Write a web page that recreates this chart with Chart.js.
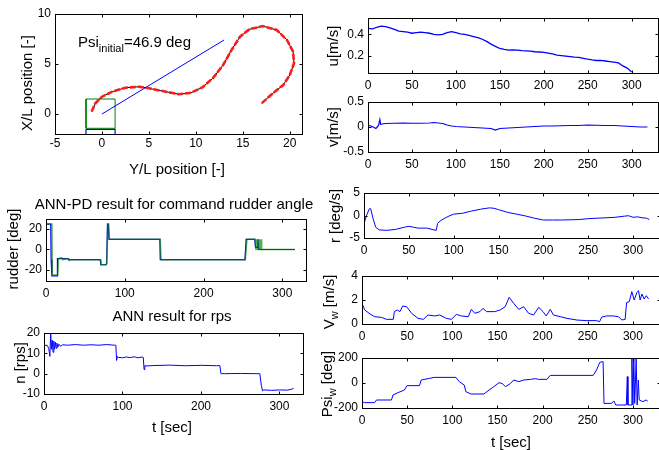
<!DOCTYPE html>
<html>
<head>
<meta charset="utf-8">
<script src="https://cdn.jsdelivr.net/npm/chart.js@4.4.0/dist/chart.umd.min.js"></script>
<style>
  html, body { margin: 0; padding: 0; background: #fff; overflow: hidden; }
  #page { position: relative; width: 659px; height: 450px; overflow: hidden; }
  #page canvas { position: absolute; left: 0; top: 0; }
</style>
</head>
<body>
<div id="page"></div>
<script>
// ---- trajectory (Y/L, X/L) ----
const pathY = [-1.1, -0.7, 0.0, 1.1, 2.5, 4.0, 5.0, 6.8, 8.2, 9.5, 10.7, 11.8, 12.9, 13.8, 14.7, 15.7, 17.1, 18.6, 19.7, 20.35, 20.45, 20.0, 19.3, 18.2, 17.0];
const pathX = [0.25, 1.07, 1.73, 2.23, 2.63, 2.73, 2.57, 2.23, 1.97, 2.13, 2.67, 3.57, 4.9, 6.4, 7.73, 8.47, 8.8, 8.4, 7.4, 6.23, 5.07, 3.9, 2.9, 2.07, 1.07];
const headY = [0, 13];
const headX = [0, 7.4];
const greenBoxY = [-1.7, 1.4, 1.4, -1.7, -1.7];
const greenBoxX = [-1.43, -1.43, 1.5, 1.5, -1.43];
const blueBoxY = [-1.7, 1.4, 1.4, -1.7, -1.7];
const blueBoxX = [-1.53, -1.53, -3, -3, -1.53];

// ---- rudder [deg] ----
const rudActT = [0, 0.3, 7.5, 8, 15, 16, 20, 21, 28, 29, 69, 70, 76, 77, 78.5, 79.5, 80.5, 145, 146, 253, 255, 265.5, 266, 266.5, 267, 267.5, 268, 268.5, 269, 269.5, 270, 270.5, 271, 271.5, 272, 272.5, 273, 273.5, 274, 274.5, 316];
const rudActV = [0, 25, 25, -25, -25, -9, -8, -10, -9, -10, -10, -15, -15, -14, 25, 25, 10, 10, -10, -10, 10, 10, 0, 10, 0, 10, 0, 10, 0, 10, 0, 10, 0, 10, 0, 10, 0, 10, 0, 0, 0];
const rudCmdT = [0, 6, 6.5, 7.5, 14, 14.5, 28, 29, 69, 69.5, 76, 77, 78, 79, 80, 144.5, 145, 252.5, 254, 265, 266, 268, 269, 270, 271, 275, 316];
const rudCmdV = [25, 25, -10, -26, -26, -9, -9, -10, -10, -15, -15, -14, 25, 25, 10, 10, -10, -10, 10, 10, 2, 2, 10, 0, 0, 0, 0];

// ---- propeller rps ----
const rpsT = [0, 4, 6, 7.5, 8.5, 9.5, 10.5, 11.5, 12.5, 13.5, 14.5, 15.5, 16.5, 17.5, 19, 21, 24, 30, 40, 50, 60, 70, 80, 90, 91.5, 92.5, 93.5, 95, 100, 105, 110, 115, 120, 125, 126.5, 127.5, 128.5, 130, 140, 160, 180, 200, 220, 224, 225.5, 230, 250, 270, 275, 277, 278.5, 280, 290, 300, 310, 316, 318];
const rpsV = [13.8, 14, 12.5, 8.5, 20.5, 12, 16.5, 10.5, 16, 12, 15.5, 12.5, 15, 13, 14.5, 13.5, 14.2, 14, 14.3, 14, 14.2, 14, 14.3, 14, 14, 6.5, 8.5, 8, 7.8, 8.2, 7.9, 8.3, 7.8, 8.2, 8, 2, 4, 3.8, 4, 4.2, 3.9, 4.1, 3.9, 4, 0, 0, 0.1, 0, 0, -6, -8.5, -8, -8.2, -8, -8.1, -7.6, -7.2];

// ---- surge u [m/s] ----
const uT = [0, 5, 10, 15, 20, 25, 30, 35, 40, 45, 50, 55, 60, 65, 70, 75, 80, 85, 90, 95, 100, 105, 110, 115, 120, 125, 130, 135, 140, 145, 150, 155, 160, 165, 170, 175, 180, 185, 190, 195, 200, 205, 210, 215, 220, 225, 230, 235, 240, 245, 250, 255, 260, 265, 270, 275, 280, 285, 290, 295, 300];
const uV = [0.455, 0.45, 0.465, 0.475, 0.47, 0.46, 0.445, 0.43, 0.425, 0.42, 0.41, 0.415, 0.42, 0.415, 0.41, 0.4, 0.395, 0.4, 0.415, 0.425, 0.415, 0.405, 0.4, 0.39, 0.38, 0.37, 0.355, 0.335, 0.31, 0.29, 0.27, 0.262, 0.255, 0.258, 0.255, 0.25, 0.248, 0.245, 0.24, 0.238, 0.235, 0.228, 0.22, 0.21, 0.205, 0.2, 0.195, 0.19, 0.188, 0.18, 0.172, 0.165, 0.16, 0.16, 0.155, 0.15, 0.145, 0.138, 0.11, 0.09, 0.055];

// ---- sway v [m/s] ----
const vT = [0, 3, 6, 9, 12, 13.5, 14.5, 16, 20, 30, 40, 50, 60, 70, 75, 80, 85, 90, 95, 100, 110, 120, 130, 140, 145, 150, 160, 170, 180, 190, 200, 210, 220, 230, 240, 250, 260, 270, 280, 290, 300, 310, 318];
const vV = [0.04, 0.02, 0.0, -0.03, 0.03, 0.15, 0.05, 0.06, 0.07, 0.075, 0.08, 0.075, 0.075, 0.08, 0.09, 0.08, 0.07, 0.04, 0.02, 0.01, 0.0, -0.01, -0.02, -0.03, -0.06, -0.03, -0.02, -0.01, 0.0, 0.01, 0.02, 0.02, 0.025, 0.03, 0.03, 0.04, 0.035, 0.03, 0.03, 0.02, 0.01, 0.0, 0.0];

// ---- yaw rate r [deg/s] ----
const rT = [0, 3, 6, 7.5, 10, 13, 17, 25, 35, 45, 50, 55, 60, 70, 78, 80.5, 82, 85, 90, 95, 100, 110, 120, 130, 140, 145, 150, 160, 170, 180, 190, 200, 210, 220, 230, 240, 250, 260, 270, 280, 290, 295, 300, 305, 310, 315, 318];
const rV = [-1.8, 0.1, 1.5, 1.5, -0.6, -2.6, -3.2, -3.3, -3.1, -2.6, -2.4, -2.6, -2.8, -2.8, -3.2, -3.3, -1.8, -1.2, -0.6, -0.1, 0.3, 0.5, 1.0, 1.4, 1.7, 1.6, 1.3, 0.7, 0.3, -0.1, -0.6, -1.0, -1.0, -1.0, -0.95, -0.9, -0.7, -0.6, -0.5, -0.4, -0.15, -0.05, -0.4, -0.3, -0.5, -0.6, -0.9];

// ---- wind speed V_w [m/s] ----
const vwT = [0, 3, 9, 14, 21.6, 27, 34.7, 35.8, 39, 42, 45, 49.4, 55, 62, 68, 73, 80.6, 86, 93.4, 99, 104.5, 110, 117.7, 121, 125, 130.5, 134, 138, 147, 153, 158.5, 163, 168, 173.5, 179, 184.5, 190, 195.7, 200.5, 204, 208.5, 212, 219.6, 227, 238, 249, 260, 263, 265.6, 271, 278.5, 284, 287.7, 291.4, 293, 296, 298.8, 301.4, 304.3, 306.2, 308, 310, 312.5, 314.8, 317.4];
const vwV = [1.72, 1.17, 0.83, 0.61, 0.55, 0.39, 0.39, 1.03, 1.17, 1.03, 1.5, 1.44, 0.89, 0.47, 0.39, 0.75, 0.67, 0.75, 0.47, 0.39, 0.8, 0.67, 0.61, 1.22, 0.89, 1.03, 1.3, 1.03, 1.03, 1.17, 1.44, 2.22, 1.72, 1.22, 1.44, 0.89, 0.75, 1.39, 1.03, 0.67, 1.22, 0.75, 0.61, 0.47, 0.33, 0.28, 0.28, 0.19, 0.58, 0.67, 0.67, 0.61, 0.33, 0.39, 1.78, 1.86, 2.7, 2.0, 2.61, 2.78, 2.0, 2.5, 2.08, 2.36, 2.08];

// ---- wind direction Psi_w [deg] ----
const pwT = [0, 3, 14, 16, 32.6, 34.4, 39.9, 47, 49.8, 63.7, 65.6, 74.7, 80, 104, 107.7, 113.2, 115, 120.5, 135, 140.7, 146, 151.6, 155, 159, 164.5, 168, 173.6, 179, 186.4, 192, 195.6, 204.8, 208.4, 256, 259.7, 263.3, 267, 268, 276, 279, 281, 292.7, 293.8, 294.5, 298, 298.9, 300, 301, 302, 303.6, 304.7, 306, 307, 311, 314.6, 316.4];
const pwV = [-150, -157, -157, -136, -136, -96, -77, -56, -21, -21, 24, 37, 45, 45, 11, -16, -69, -88, -88, -56, -29, 2, -3, -29, -3, 24, 11, 24, 29, 35, 29, 29, 61, 61, 104, 165, 171, -163, -163, -144, -176, -176, 51, -176, -176, 195, -176, 195, -163, 195, -176, 24, -136, -149, -136, -144];

// ---- tick labels ----
const trajXTicks = [-5, 0, 5, 10, 15, 20];
const trajYTicks = [0, 5, 10];
const rudYTicks = [-20, 0, 20];
const rpsYTicks = [-10, 0, 10, 20];
const tTicksLeft = [0, 100, 200, 300];
const tTicksRight = [0, 50, 100, 150, 200, 250, 300];
const uTicks = [0.2, 0.4];
const vTicks = [-0.5, 0, 0.5];
const rTicks = [-5, 0, 5];
const vwTicks = [0, 2, 4];
const pwTicks = [-200, 0, 200];

const W = 680, H = 450;
const Y_AXIS_W = 40, X_AXIS_H = 24;
const FONT = "'Liberation Sans', Arial, Helvetica, sans-serif";
Chart.defaults.font.family = FONT;
Chart.defaults.font.size = 12;
Chart.defaults.color = '#000';

const pts = (xs, ys) => xs.map((x, i) => ({ x: x, y: ys[i] }));
const line = (xs, ys, color, width, extra) => Object.assign({
  data: pts(xs, ys), borderColor: color, borderWidth: width,
  pointRadius: 0, tension: 0, fill: false
}, extra || {});

function drawRich(ctx, item) {
  const segs = item.segs.map(s => Object.assign({ size: 15, dy: 0 }, s));
  let total = 0;
  segs.forEach(s => { ctx.font = s.size + 'px ' + FONT; s.w = ctx.measureText(s.t).width; total += s.w; });
  ctx.save();
  ctx.translate(item.x, item.y);
  if (item.rot) ctx.rotate(item.rot * Math.PI / 180);
  ctx.fillStyle = '#000';
  ctx.textBaseline = 'alphabetic';
  ctx.textAlign = 'left';
  let x = item.align === 'left' ? 0 : -total / 2;
  segs.forEach(s => {
    ctx.font = s.size + 'px ' + FONT;
    ctx.fillText(s.t, x, (item.align === 'left' ? 0 : 5) + s.dy);
    x += s.w;
  });
  ctx.restore();
}

// box round the plot area with MATLAB-style inward ticks, plus the panel's texts
const matlabAxes = {
  id: 'matlabAxes',
  afterDraw(chart, args, opts) {
    const ctx = chart.ctx;
    const a = chart.chartArea;
    const l = Math.round(a.left) + 0.5, t = Math.round(a.top) + 0.5;
    const r = Math.round(a.right) + 0.5, b = Math.round(a.bottom) + 0.5;
    ctx.save();
    ctx.strokeStyle = '#000';
    ctx.lineWidth = 1;
    ctx.strokeRect(l, t, r - l, b - t);
    const tl = 3;
    ctx.beginPath();
    const xs = chart.scales.x, ys = chart.scales.y;
    xs.ticks.forEach(tk => {
      const px = Math.round(xs.getPixelForValue(tk.value)) + 0.5;
      ctx.moveTo(px, b); ctx.lineTo(px, b - tl);
      ctx.moveTo(px, t); ctx.lineTo(px, t + tl);
    });
    ys.ticks.forEach(tk => {
      const py = Math.round(ys.getPixelForValue(tk.value)) + 0.5;
      ctx.moveTo(l, py); ctx.lineTo(l + tl, py);
      ctx.moveTo(r, py); ctx.lineTo(r - tl, py);
    });
    ctx.stroke();
    ctx.restore();
    (opts.items || []).forEach(it => drawRich(ctx, it));
  }
};

function panel(cfg) {
  const canvas = document.createElement('canvas');
  canvas.width = W; canvas.height = H;
  document.getElementById('page').appendChild(canvas);
  const fixTicks = list => s => { s.ticks = list.map(v => ({ value: v })); };
  new Chart(canvas.getContext('2d'), {
    type: 'line',
    data: { datasets: cfg.datasets },
    options: {
      responsive: false,
      animation: false,
      events: [],
      layout: { padding: {
        left: cfg.box[0] - Y_AXIS_W, top: cfg.box[1],
        right: W - cfg.box[2], bottom: H - cfg.box[3] - X_AXIS_H
      } },
      plugins: { legend: { display: false }, tooltip: { enabled: false }, matlabAxes: { items: cfg.texts } },
      scales: {
        x: {
          type: 'linear', min: cfg.x[0], max: cfg.x[1],
          grid: { display: false, drawTicks: false }, border: { display: false },
          ticks: { padding: cfg.xPad || 5, autoSkip: false, maxRotation: 0 },
          afterBuildTicks: fixTicks(cfg.xTicks),
          afterFit: s => { s.height = X_AXIS_H; }
        },
        y: {
          type: 'linear', min: cfg.y[0], max: cfg.y[1],
          grid: { display: false, drawTicks: false }, border: { display: false },
          ticks: { padding: 4, autoSkip: false },
          afterBuildTicks: fixTicks(cfg.yTicks),
          afterFit: s => { s.width = Y_AXIS_W; }
        }
      }
    },
    plugins: [matlabAxes]
  });
}

const BLUE = '#0000ff';

// trajectory
panel({
  box: [55, 14, 302, 134], x: [-5, 21.3], y: [-2, 10], xPad: 2,
  xTicks: trajXTicks, yTicks: trajYTicks,
  datasets: [
    line(pathY, pathX, '#ff1a1a', 2.6, { borderDash: [6, 2] }),
    line(pathY, pathX, '#000000', 1),
    line(headY, headX, BLUE, 1),
    line(greenBoxY, greenBoxX, '#008000', 1),
    line(blueBoxY, blueBoxX, BLUE, 1.2)
  ],
  texts: [
    { x: 177, y: 169, segs: [{ t: 'Y/L position [-]' }] },
    { x: 27, y: 83, rot: -90, segs: [{ t: 'X/L position [-]' }] },
    { x: 78, y: 47, align: 'left', segs: [{ t: 'Psi', size: 15 }, { t: 'initial', size: 11, dy: 5 }, { t: '=46.9 deg', size: 15 }] }
  ]
});

// rudder
panel({
  box: [46, 219, 306, 281], x: [0, 330], y: [-31, 30],
  xTicks: tTicksLeft, yTicks: rudYTicks,
  datasets: [
    line(rudActT, rudActV, 'rgba(0,128,0,0.65)', 1.5),
    line(rudCmdT, rudCmdV, BLUE, 1.2)
  ],
  texts: [
    { x: 174, y: 204, segs: [{ t: 'ANN-PD result for command rudder angle' }] },
    { x: 13, y: 249, rot: -90, segs: [{ t: 'rudder [deg]' }] }
  ]
});

// rps
panel({
  box: [44, 333, 303, 394], x: [0, 330], y: [-10, 20],
  xTicks: tTicksLeft, yTicks: rpsYTicks,
  datasets: [line(rpsT, rpsV, BLUE, 1)],
  texts: [
    { x: 172, y: 316, segs: [{ t: 'ANN result for rps' }] },
    { x: 20, y: 363, rot: -90, segs: [{ t: 'n [rps]' }] },
    { x: 172, y: 427, segs: [{ t: 't [sec]' }] }
  ]
});

// u
panel({
  box: [368, 18, 658, 73], x: [0, 330], y: [0.045, 0.55],
  xTicks: tTicksRight, yTicks: uTicks,
  datasets: [line(uT, uV, BLUE, 1.3)],
  texts: [{ x: 333, y: 46, rot: -90, segs: [{ t: 'u[m/s]' }] }]
});

// v
panel({
  box: [368, 102, 658, 152], x: [0, 330], y: [-0.5, 0.5],
  xTicks: tTicksRight, yTicks: vTicks,
  datasets: [line(vT, vV, BLUE, 1.2)],
  texts: [{ x: 333, y: 127, rot: -90, segs: [{ t: 'v[m/s]' }] }]
});

// r
panel({
  box: [364, 193, 660, 238], x: [0, 330], y: [-5, 5],
  xTicks: tTicksRight, yTicks: rTicks,
  datasets: [line(rT, rV, BLUE, 1)],
  texts: [{ x: 335, y: 216, rot: -90, segs: [{ t: 'r [deg/s]' }] }]
});

// V_w
panel({
  box: [362, 276, 660, 324], x: [0, 330], y: [0, 4],
  xTicks: tTicksRight, yTicks: vwTicks,
  datasets: [line(vwT, vwV, BLUE, 1)],
  texts: [{ x: 329, y: 302, rot: -90, segs: [{ t: 'V' }, { t: 'w', size: 11, dy: 4 }, { t: ' [m/s]' }] }]
});

// Psi_w
panel({
  box: [362, 358, 660, 408], x: [0, 330], y: [-200, 200],
  xTicks: tTicksRight, yTicks: pwTicks,
  datasets: [line(pwT, pwV, BLUE, 1)],
  texts: [
    { x: 327, y: 384, rot: -90, segs: [{ t: 'Psi' }, { t: 'w', size: 11, dy: 4 }, { t: ' [deg]' }] },
    { x: 511, y: 442, segs: [{ t: 't [sec]' }] }
  ]
});
</script>
</body>
</html>
